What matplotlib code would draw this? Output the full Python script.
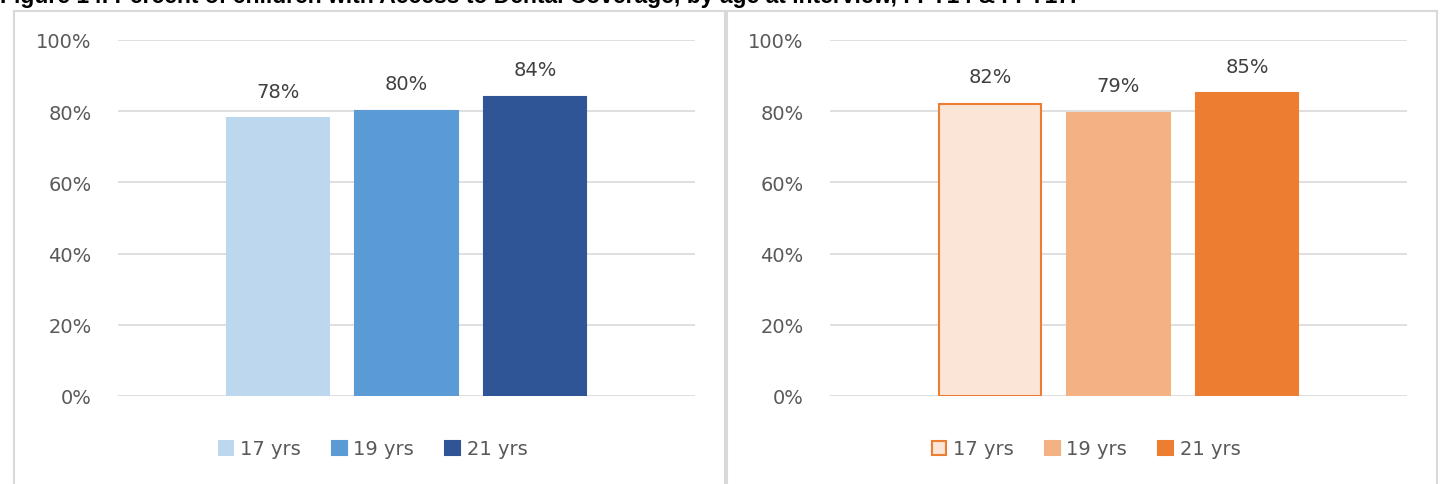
import matplotlib
matplotlib.use("Agg")
import matplotlib.pyplot as plt
from matplotlib.patches import Rectangle, Patch

# data
ages = ["17 yrs", "19 yrs", "21 yrs"]
left_values = [78, 80, 84]
right_values = [82, 79.5, 85]
left_labels = ["78%", "80%", "84%"]
right_labels = ["82%", "79%", "85%"]
yticks = [0, 20, 40, 60, 80, 100]
title = "Figure 14. Percent of children with Access to Dental Coverage, by age at interview, FFY14 & FFY17."

left_colors = ["#BDD7EE", "#5B9BD5", "#2F5597"]
left_edges = ["#BDD7EE", "#5B9BD5", "#2F5597"]
right_colors = ["#FBE5D6", "#F4B183", "#ED7D31"]
right_edges = ["#ED7D31", "#F4B183", "#ED7D31"]

plt.rcParams["font.family"] = "DejaVu Sans"

W, H = 1443, 485
fig = plt.figure(figsize=(W / 100, H / 100), dpi=100)


def px(x0, y0, x1, y1):
    # pixel box (top-left origin) -> figure rect
    return [x0 / W, 1 - y1 / H, (x1 - x0) / W, (y1 - y0) / H]


# panel borders
for x0, x1 in [(14, 725), (727, 1437)]:
    fig.patches.append(Rectangle((x0 / W, -0.05), (x1 - x0) / W, 1 - 11.5 / H + 0.05,
                                 transform=fig.transFigure, fill=False,
                                 edgecolor="#D9D9D9", lw=1.5))

fig.text(0.0, 1 - 3 / H, title, fontsize=16.5, fontweight="bold",
         family="Liberation Sans", va="baseline", ha="left", color="black")


def panel(rect, values, labels, colors, edges, legend_x):
    ax = fig.add_axes(rect)
    xs = range(len(values))
    ax.bar(xs, values, width=0.794, color=colors, edgecolor=edges, linewidth=1.5, zorder=3)
    for x, v, lab in zip(xs, values, labels):
        ax.text(x, v + 5, lab, ha="center", va="bottom", fontsize=14, color="#404040")
    ax.set_xlim(-1.245, 3.245)
    ax.set_ylim(0, 100)
    ax.set_yticks(yticks)
    ax.set_yticklabels([f"{t}%" for t in yticks])
    ax.yaxis.grid(True, color="#D9D9D9", lw=1.2, zorder=0)
    ax.set_axisbelow(True)
    ax.set_xticks([])
    ax.tick_params(axis="y", length=0, pad=19, labelsize=14, labelcolor="#595959")
    for s in ax.spines.values():
        s.set_visible(False)
    handles = [Patch(facecolor=c, edgecolor=e, lw=1.5) for c, e in zip(colors, edges)]
    fig.legend(handles, ages, loc="center", bbox_to_anchor=(legend_x / W, 1 - 450 / H),
               ncol=3, frameon=False, fontsize=14, labelcolor="#595959",
               handlelength=0.75, handleheight=0.75, handletextpad=0.35, columnspacing=1.6)
    return ax


panel(px(118, 41, 695, 397), left_values, left_labels, left_colors, left_edges, 373)
panel(px(830, 41, 1407, 397), right_values, right_labels, right_colors, right_edges, 1086)

fig.savefig("out.png", dpi=100)
